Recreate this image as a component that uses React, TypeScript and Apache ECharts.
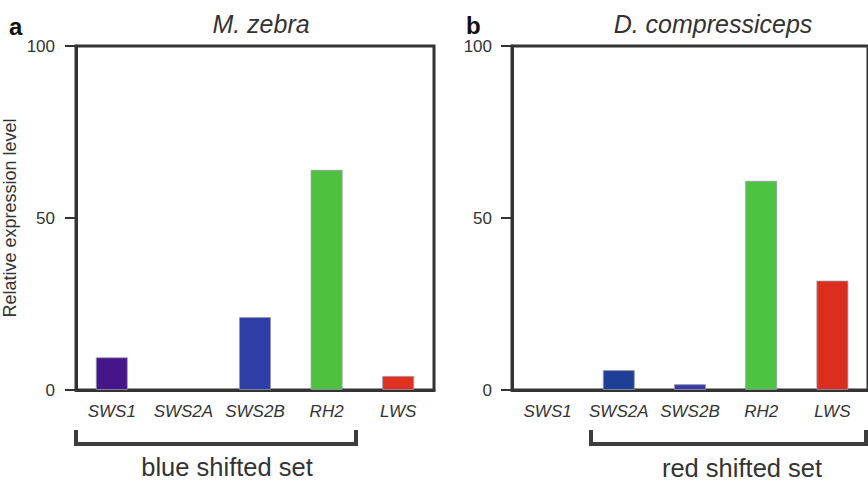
import React, { useEffect, useRef } from "react";
import * as echarts from "echarts";

const categories = ["SWS1", "SWS2A", "SWS2B", "RH2", "LWS"];
const zebraValues = [9.5, 0, 21.2, 64, 4.1];
const compressicepsValues = [0, 5.8, 1.7, 60.8, 31.8];
const zebraColors = ["#46158a", "#2b3b9f", "#2e3ea6", "#4ec23e", "#e0301f"];
const compressicepsColors = ["#46158a", "#1f3f96", "#3a3aa8", "#4cc442", "#dc2e1e"];
const yTicks = [0, 50, 100];
const panelTitles = ["M. zebra", "D. compressiceps"];
const panelLetters = ["a", "b"];
const setLabels = ["blue shifted set", "red shifted set"];

const FONT = "'Liberation Sans', Arial, Helvetica, sans-serif";
const DARK = "#333333";

export default function App() {
  const ref = useRef<HTMLDivElement>(null);

  useEffect(() => {
    if (!ref.current) return;
    const chart = echarts.init(ref.current, undefined, { renderer: "svg" });

    const gridCommon = {
      top: 46,
      bottom: 92,
      show: true,
      borderColor: DARK,
      borderWidth: 3,
      backgroundColor: "transparent",
    };

    const xAxisCommon = (gridIndex: number) => ({
      type: "category" as const,
      gridIndex,
      data: categories,
      axisLine: { show: true, lineStyle: { color: DARK, width: 3 } },
      axisTick: { show: false },
      axisLabel: {
        interval: 0,
        hideOverlap: false,
        margin: 13,
        fontSize: 17,
        fontStyle: "italic",
        color: DARK,
        fontFamily: FONT,
      },
    });

    const yAxisCommon = (gridIndex: number, margin: number) => ({
      type: "value" as const,
      gridIndex,
      min: 0,
      max: 100,
      interval: 50,
      splitLine: { show: false },
      axisLine: { show: true, lineStyle: { color: DARK, width: 3 } },
      axisTick: { show: true, inside: false, length: 11, lineStyle: { color: DARK, width: 2 } },
      axisLabel: {
        margin,
        fontSize: 17,
        color: DARK,
        fontFamily: FONT,
        formatter: (v: number) => (yTicks.includes(v) ? String(v) : ""),
      },
    });

    const textEl = (
      x: number,
      y: number,
      text: string,
      fontSize: number,
      extra: Record<string, any> = {}
    ) => ({
      type: "text",
      x,
      y,
      style: {
        text,
        fontSize,
        fontFamily: FONT,
        fill: DARK,
        textAlign: "center",
        textVerticalAlign: "middle",
        ...extra,
      },
    });

    chart.setOption({
      animation: false,
      backgroundColor: "#ffffff",
      textStyle: { fontFamily: FONT },
      grid: [
        { ...gridCommon, left: 74, right: 434 },
        { ...gridCommon, left: 512, right: -6 },
      ],
      xAxis: [xAxisCommon(0), xAxisCommon(1)],
      yAxis: [
        {
          ...yAxisCommon(0, 21),
          name: "Relative expression level",
          nameLocation: "middle",
          nameGap: 57,
          nameTextStyle: { fontSize: 18, color: DARK, fontFamily: FONT },
        },
        yAxisCommon(1, 20),
      ],
      series: [
        {
          type: "bar",
          xAxisIndex: 0,
          yAxisIndex: 0,
          data: zebraValues.map((v, i) => ({
            value: v,
            itemStyle: {
              color: zebraColors[i],
              borderColor: v > 0 ? "rgba(150,150,170,0.8)" : "transparent",
              borderWidth: v > 0 ? 1 : 0,
            },
          })),
          barWidth: 32,
        },
        {
          type: "bar",
          xAxisIndex: 1,
          yAxisIndex: 1,
          data: compressicepsValues.map((v, i) => ({
            value: v,
            itemStyle: {
              color: compressicepsColors[i],
              borderColor: v > 0 ? "rgba(150,150,170,0.8)" : "transparent",
              borderWidth: v > 0 ? 1 : 0,
            },
          })),
          barWidth: 32,
        },
      ],
      graphic: [
        textEl(261, 24, panelTitles[0], 25, { fontStyle: "italic" }),
        textEl(713, 24, panelTitles[1], 25, { fontStyle: "italic" }),
        textEl(9, 26, panelLetters[0], 24, { fontWeight: "bold", fill: "#111", textAlign: "left" }),
        textEl(466, 25, panelLetters[1], 24, { fontWeight: "bold", fill: "#111", textAlign: "left" }),
        {
          type: "polyline",
          shape: { points: [[76, 430], [76, 444], [356, 444], [356, 430]] },
          style: { stroke: "#3c3c3c", lineWidth: 4, fill: "none" },
        },
        {
          type: "polyline",
          shape: { points: [[591, 430], [591, 444], [866, 444], [866, 430]] },
          style: { stroke: "#3c3c3c", lineWidth: 4, fill: "none" },
        },
        textEl(227, 467, setLabels[0], 25.5),
        textEl(742, 468, setLabels[1], 25.5),
      ],
    });

    return () => chart.dispose();
  }, []);

  return <div ref={ref} style={{ width: 868, height: 482, position: "absolute", left: 0, top: 0 }} />;
}
